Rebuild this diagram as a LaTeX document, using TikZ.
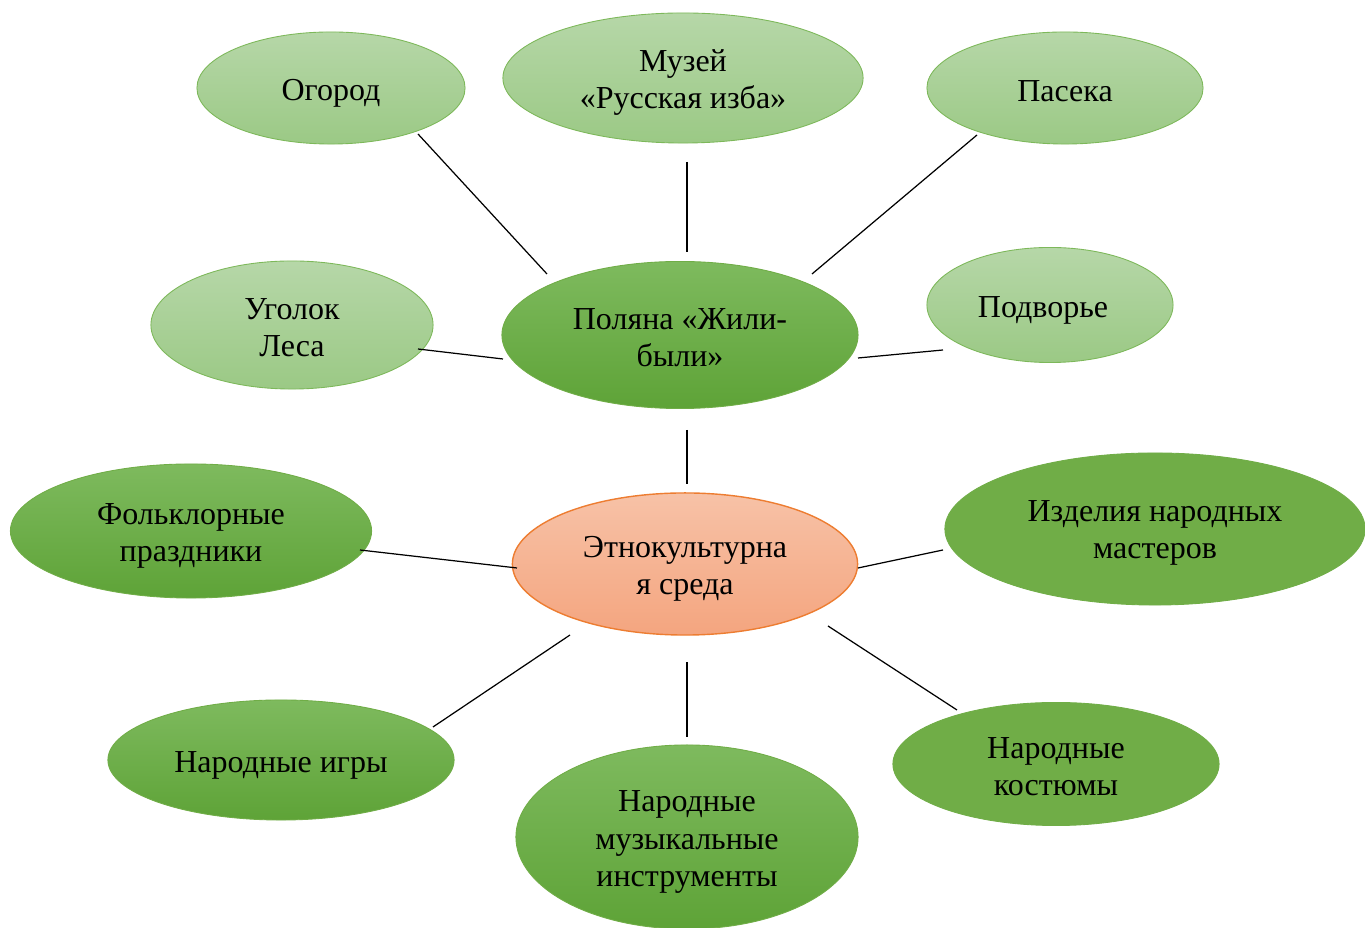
\documentclass[tikz,border=0pt]{standalone}
\usepackage{fontspec}
\setmainfont{Liberation Serif}
\usetikzlibrary{shapes.geometric}
\definecolor{lgtop}{HTML}{B6D7A8}
\definecolor{lgbot}{HTML}{9BC985}
\definecolor{lgline}{HTML}{7DB85A}
\definecolor{dgtop}{HTML}{7EBA5E}
\definecolor{dgbot}{HTML}{5EA337}
\definecolor{dgflat}{HTML}{70AD47}
\definecolor{sltop}{HTML}{F7C2A7}
\definecolor{slbot}{HTML}{F4A57F}
\definecolor{slline}{HTML}{ED7D31}
\tikzset{
  bub/.style={ellipse, inner sep=0pt},
  light/.style={bub, draw=lgline, line width=0.25pt, top color=lgtop, bottom color=lgbot},
  dark/.style={bub, draw=dgflat, line width=0.25pt, top color=dgtop, bottom color=dgbot},
  flat/.style={bub, draw=dgflat, line width=0.25pt, fill=dgflat},
  salmon/.style={bub, draw=slline, line width=0.4pt, top color=sltop, bottom color=slbot},
  txt/.style={inner sep=0pt, align=center, font=\fontsize{9.1pt}{10.6pt}\selectfont, text=black},
  conn/.style={draw=black, line width=0.35pt}
}
\begin{document}
\begin{tikzpicture}[x=0.01cm,y=-0.01cm]
\useasboundingbox (0,0) rectangle (1365,928);
\clip (0,0) rectangle (1365,928);
% shapes
\node[light, minimum width=2.68cm, minimum height=1.12cm] (og) at (331,88) {};
\node[light, minimum width=3.60cm, minimum height=1.30cm] (mu) at (683,78) {};
\node[light, minimum width=2.76cm, minimum height=1.12cm] (pa) at (1065,88) {};
\node[light, minimum width=2.82cm, minimum height=1.28cm] (ug) at (292,325) {};
\node[dark, minimum width=3.56cm, minimum height=1.47cm] (po) at (680,335) {};
\node[light, minimum width=2.46cm, minimum height=1.15cm] (pd) at (1050,305) {};
\node[dark, minimum width=3.61cm, minimum height=1.34cm] (fo) at (191,531) {};
\node[salmon, minimum width=3.45cm, minimum height=1.42cm] (et) at (685,564) {};
\node[flat, minimum width=4.20cm, minimum height=1.52cm] (iz) at (1155,529) {};
\node[dark, minimum width=3.46cm, minimum height=1.20cm] (ig) at (281,760) {};
\node[dark, minimum width=3.42cm, minimum height=1.84cm] (mi) at (687,837) {};
\node[flat, minimum width=3.26cm, minimum height=1.23cm] (ko) at (1056,764) {};
% texts
\node[txt] (og-t) at ([yshift=-0.05cm]og.center) {Огород};
\node[txt] (mu-t) at ([yshift=-0.045cm]mu.center) {Музей\\«Русская изба»};
\node[txt] (pa-t) at ([yshift=-0.035cm]pa.center) {Пасека};
\node[txt] (ug-t) at ([yshift=-0.025cm]ug.center) {Уголок\\Леса};
\node[txt] (po-t) at ([yshift=-0.025cm]po.center) {Поляна «Жили-\\были»};
\node[txt] (pd-t) at ([xshift=-0.07cm,yshift=-0.05cm]pd.center) {Подворье};
\node[txt] (fo-t) at ([yshift=-0.05cm]fo.center) {Фольклорные\\праздники};
\node[txt] (et-t) at ([yshift=-0.05cm]et.center) {Этнокультурна\\я среда};
\node[txt] (iz-t) at ([yshift=-0.04cm]iz.center) {Изделия народных\\мастеров};
\node[txt] (ig-t) at ([yshift=-0.05cm]ig.center) {Народные игры};
\node[txt] (mi-t) at ([yshift=-0.05cm]mi.center) {Народные\\музыкальные\\инструменты};
\node[txt] (ko-t) at ([yshift=-0.025cm]ko.center) {Народные\\костюмы};
% connector ends
\coordinate (og-a) at (418,134); \coordinate (og-b) at (547,274);
\coordinate (mu-a) at (687,162); \coordinate (mu-b) at (687,252);
\coordinate (pa-a) at (977,135); \coordinate (pa-b) at (812,274);
\coordinate (ug-a) at (418,349); \coordinate (ug-b) at (503,359);
\coordinate (pd-a) at (943,350); \coordinate (pd-b) at (858,358);
\coordinate (po-a) at (687,430); \coordinate (po-b) at (687,484);
\coordinate (fo-a) at (360,550); \coordinate (fo-b) at (517,568);
\coordinate (iz-a) at (943,550); \coordinate (iz-b) at (858,568);
\coordinate (ig-a) at (433,727); \coordinate (ig-b) at (570,635);
\coordinate (mi-a) at (687,737); \coordinate (mi-b) at (687,662);
\coordinate (ko-a) at (957,710); \coordinate (ko-b) at (828,626);
\foreach \n in {og,mu,pa,ug,pd,po,fo,iz,ig,mi,ko}
  \draw[conn] (\n-a) -- (\n-b);
\end{tikzpicture}
\end{document}
